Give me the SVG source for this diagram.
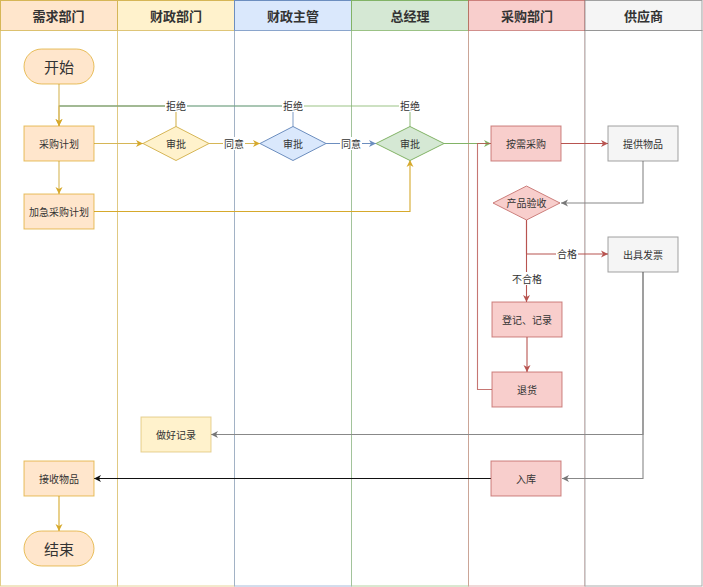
<svg xmlns="http://www.w3.org/2000/svg" width="703" height="587" viewBox="0 0 703 587">
<style>
text{font-family:"Noto Sans","Noto Sans CJK SC",sans-serif;fill:#333;text-anchor:middle;dominant-baseline:central}
.h{font-size:13px;font-weight:bold}
.n{font-size:10px}
.big{font-size:15px}
.lbl{font-size:10px}
.e{fill:none;stroke-width:1.1}
.or{fill:#ffe6cc;stroke:#d79b00;stroke-opacity:.6}
.ye{fill:#fff2cc;stroke:#d6b656}
.bl{fill:#dae8fc;stroke:#6c8ebf}
.gr{fill:#d5e8d4;stroke:#82b366}
.rd{fill:#f8cecc;stroke:#b85450;stroke-opacity:.7}
.gy{fill:#f5f5f5;stroke:#666;stroke-opacity:.6}
</style>
<defs>
<marker id="aY" markerWidth="8" markerHeight="8" refX="7" refY="4" orient="auto" markerUnits="userSpaceOnUse"><path d="M0,0.5 L7,4 L0,7.5 L2,4 z" fill="#d6a92c"/></marker>
<marker id="aB" markerWidth="8" markerHeight="8" refX="7" refY="4" orient="auto" markerUnits="userSpaceOnUse"><path d="M0,0.5 L7,4 L0,7.5 L2,4 z" fill="#6c8ebf"/></marker>
<marker id="aG" markerWidth="8" markerHeight="8" refX="7" refY="4" orient="auto" markerUnits="userSpaceOnUse"><path d="M0,0.5 L7,4 L0,7.5 L2,4 z" fill="#82b366"/></marker>
<marker id="aR" markerWidth="8" markerHeight="8" refX="7" refY="4" orient="auto" markerUnits="userSpaceOnUse"><path d="M0,0.5 L7,4 L0,7.5 L2,4 z" fill="#b85450"/></marker>
<marker id="aS" markerWidth="8" markerHeight="8" refX="7" refY="4" orient="auto" markerUnits="userSpaceOnUse"><path d="M0,0.5 L7,4 L0,7.5 L2,4 z" fill="#777"/></marker>
<marker id="aK" markerWidth="8" markerHeight="8" refX="7" refY="4" orient="auto" markerUnits="userSpaceOnUse"><path d="M0,0.5 L7,4 L0,7.5 L2,4 z" fill="#111"/></marker>
</defs>

<g id="lanes">
  <g id="lane-xuqiu">
    <rect x="0.5" y="0.5" width="117" height="30" fill="#ffe6cc" stroke="#d6b656"/>
    <rect x="0.5" y="30.5" width="117" height="555.5" fill="#fff" stroke="#d6b656" stroke-opacity=".7"/>
    <text class="h" x="58.5" y="16">需求部门</text>
  </g>
  <g id="lane-caizheng">
    <rect x="117.5" y="0.5" width="117" height="30" fill="#fff2cc" stroke="#d6b656"/>
    <rect x="117.5" y="30.5" width="117" height="555.5" fill="#fff" stroke="#d6b656" stroke-opacity=".6"/>
    <text class="h" x="176" y="16">财政部门</text>
  </g>
  <g id="lane-zhuguan">
    <rect x="234.5" y="0.5" width="117" height="30" fill="#dae8fc" stroke="#6c8ebf"/>
    <rect x="234.5" y="30.5" width="117" height="555.5" fill="#fff" stroke="#6c8ebf" stroke-opacity=".6"/>
    <text class="h" x="293" y="16">财政主管</text>
  </g>
  <g id="lane-zongjingli">
    <rect x="351.5" y="0.5" width="117" height="30" fill="#d5e8d4" stroke="#82b366"/>
    <rect x="351.5" y="30.5" width="117" height="555.5" fill="#fff" stroke="#82b366" stroke-opacity=".6"/>
    <text class="h" x="410" y="16">总经理</text>
  </g>
  <g id="lane-caigou">
    <rect x="468.5" y="0.5" width="116.5" height="30" fill="#f8cecc" stroke="#b85450" stroke-opacity=".7"/>
    <rect x="468.5" y="30.5" width="116.5" height="555.5" fill="#fff" stroke="#b85450" stroke-opacity=".45"/>
    <text class="h" x="527" y="16">采购部门</text>
  </g>
  <g id="lane-gongying">
    <rect x="585" y="0.5" width="117" height="30" fill="#f5f5f5" stroke="#666" stroke-opacity=".6"/>
    <rect x="585" y="30.5" width="117" height="555.5" fill="#fff" stroke="#666" stroke-opacity=".55"/>
    <text class="h" x="643.5" y="16">供应商</text>
  </g>
</g>

<g id="connectors">
  <path class="e" stroke="#d6b656" d="M176,127 V106 H59 V126" marker-end="url(#aY)"/>
  <path class="e" stroke="#6c8ebf" d="M293,127 V106 H59" stroke-opacity=".8"/>
  <path class="e" stroke="#82b366" d="M410,127 V106 H59" stroke-opacity=".8"/>
  <path class="e" stroke="#d6b656" d="M59,84 V126" marker-end="url(#aY)"/>
  <path class="e" stroke="#d6b656" d="M94,143.5 H143" marker-end="url(#aY)"/>
  <path class="e" stroke="#d6b656" d="M59,161 V194" marker-end="url(#aY)"/>
  <path class="e" stroke="#d6b656" d="M209,143.5 H260" marker-end="url(#aY)"/>
  <path class="e" stroke="#6c8ebf" d="M326,143.5 H376" marker-end="url(#aB)"/>
  <path class="e" stroke="#d6a92c" d="M94,211.5 H410 V160" marker-end="url(#aY)"/>
  <path class="e" stroke="#82b366" d="M443,143.5 H491" marker-end="url(#aG)"/>
  <path class="e" stroke="#b85450" d="M561,143.5 H608" marker-end="url(#aR)"/>
  <path class="e" stroke="#888" d="M643,161 V203 H561" marker-end="url(#aS)"/>
  <path class="e" stroke="#b85450" d="M526.5,220 V254 H608" marker-end="url(#aR)"/>
  <path class="e" stroke="#b85450" d="M526.5,220 V302" marker-end="url(#aR)"/>
  <path class="e" stroke="#b85450" d="M527,337 V372" marker-end="url(#aR)"/>
  <path class="e" stroke="#b85450" stroke-opacity=".8" d="M492,389.5 H477.5 V143.5 H491"/>
  <path class="e" stroke="#888" d="M643,272 V434.5 H211" marker-end="url(#aS)"/>
  <path class="e" stroke="#888" d="M643,272 V478.5 H562" marker-end="url(#aS)"/>
  <path class="e" stroke="#111" d="M491,478.5 H94" marker-end="url(#aK)"/>
  <path class="e" stroke="#d6a92c" d="M59,496 V531" marker-end="url(#aY)"/>
  <rect x="165" y="100" width="22" height="12" fill="#fff"/><text class="lbl" x="176" y="106">拒绝</text>
  <rect x="282" y="100" width="22" height="12" fill="#fff"/><text class="lbl" x="293" y="106">拒绝</text>
  <rect x="399" y="100" width="22" height="12" fill="#fff"/><text class="lbl" x="410" y="106">拒绝</text>
  <rect x="223" y="137" width="22" height="13" fill="#fff"/><text class="lbl" x="234" y="143.5">同意</text>
  <rect x="340" y="137" width="22" height="13" fill="#fff"/><text class="lbl" x="351" y="143.5">同意</text>
  <rect x="556" y="248" width="22" height="12" fill="#fff"/><text class="lbl" x="567" y="254">合格</text>
  <rect x="511" y="272" width="32" height="13" fill="#fff"/><text class="lbl" x="527" y="278.5">不合格</text>
</g>

<g id="start"><rect class="or" x="24" y="49" width="70" height="35" rx="17.5"/><text class="big" x="59" y="66.5">开始</text></g>
<g id="plan"><rect class="or" x="24" y="126" width="70" height="35"/><text class="n" x="59" y="143.5">采购计划</text></g>
<g id="urgent"><rect class="or" x="24" y="194" width="70" height="35"/><text class="n" x="59" y="211.5">加急采购计划</text></g>
<g id="approve1"><path class="ye" d="M143,143.5 L176,126.5 L209,143.5 L176,160.5 Z"/><text class="n" x="176" y="143.5">审批</text></g>
<g id="approve2"><path class="bl" d="M260,143.5 L293,126.5 L326,143.5 L293,160.5 Z"/><text class="n" x="293" y="143.5">审批</text></g>
<g id="approve3"><path class="gr" d="M376,143.5 L410,126.5 L444,143.5 L410,160.5 Z"/><text class="n" x="410" y="143.5">审批</text></g>
<g id="purchase"><rect class="rd" x="491" y="126" width="70" height="35"/><text class="n" x="526" y="143.5">按需采购</text></g>
<g id="supply"><rect class="gy" x="608" y="126" width="70" height="35"/><text class="n" x="643" y="143.5">提供物品</text></g>
<g id="inspect"><path class="rd" d="M493,203 L526.5,186 L560,203 L526.5,220 Z"/><text class="n" x="526.5" y="203">产品验收</text></g>
<g id="invoice"><rect class="gy" x="608" y="237" width="70" height="35"/><text class="n" x="643" y="254.5">出具发票</text></g>
<g id="register"><rect class="rd" x="492" y="302" width="70" height="35"/><text class="n" x="527" y="319.5">登记、记录</text></g>
<g id="return"><rect class="rd" x="492" y="372" width="70" height="35"/><text class="n" x="527" y="389.5">退货</text></g>
<g id="record"><rect class="ye" x="141" y="417" width="70" height="35" stroke-opacity=".6"/><text class="n" x="176" y="434.5">做好记录</text></g>
<g id="receive"><rect class="or" x="24" y="461" width="70" height="35"/><text class="n" x="59" y="478.5">接收物品</text></g>
<g id="stock"><rect class="rd" x="491" y="461" width="70" height="35"/><text class="n" x="526" y="478.5">入库</text></g>
<g id="end"><rect class="or" x="24" y="531" width="70" height="35" rx="17.5"/><text class="big" x="59" y="548.5">结束</text></g>
</svg>
